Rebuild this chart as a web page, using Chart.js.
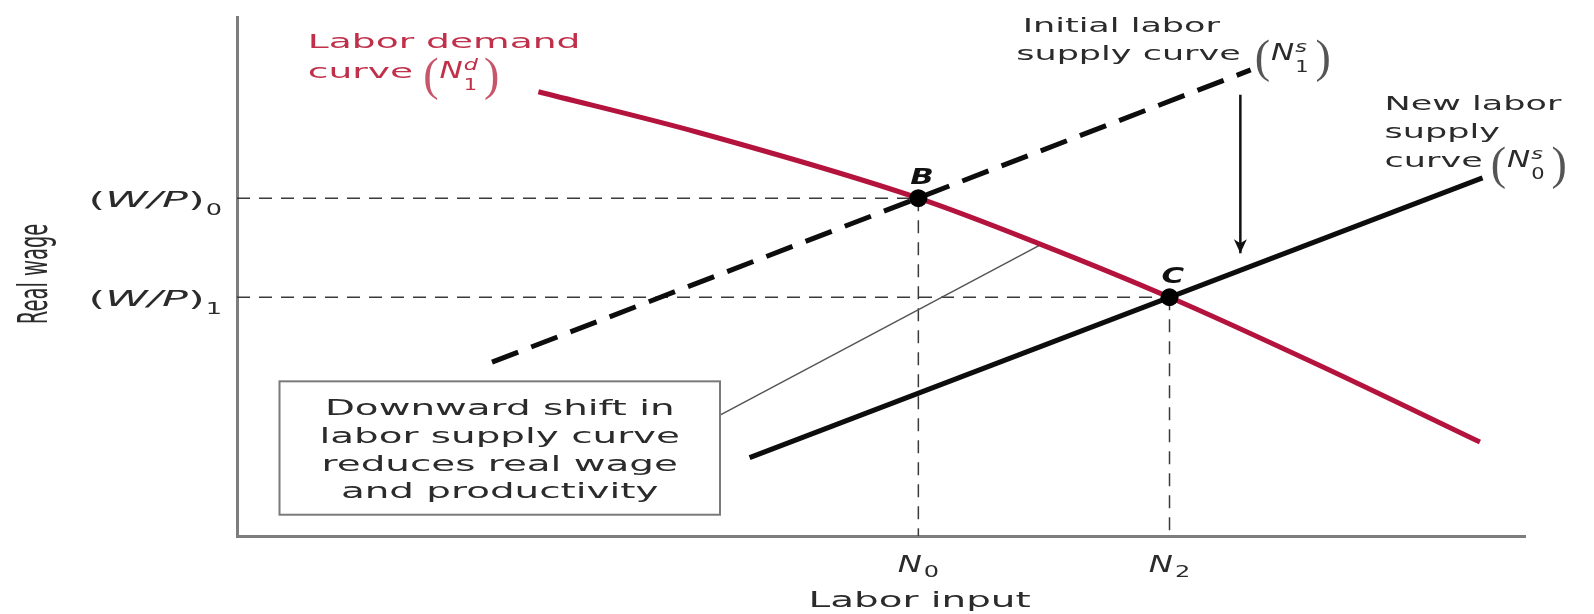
<!DOCTYPE html>
<html>
<head>
<meta charset="utf-8">
<title>Downward shift in labor supply</title>
<script src="https://cdn.jsdelivr.net/npm/chart.js@4.4.1/dist/chart.umd.min.js"></script>
<style>
  html, body { margin: 0; padding: 0; background: #fff; }
  #wrap { width: 1594px; height: 614px; }
</style>
</head>
<body>
<div id="wrap"><canvas id="chart" width="1594" height="614"></canvas></div>
<script>
// both axes are in plain chart units, 0-100 (the figure has no numeric scale)

// labor demand curve N1d
const demandX = [23.4, 35.9, 52.9, 62.3, 72.4, 84.1, 96.5];
const demandY = [85.6, 77.7, 65.1, 56.3, 46.0, 32.8, 18.1];

// initial labor supply curve N1s (dashed) and new one N0s (solid)
const initialSupplyX = [19.8, 78.7];
const initialSupplyY = [33.5, 89.8];
const newSupplyX = [39.8, 96.7];
const newSupplyY = [15.1, 69.0];

// equilibrium points B and C
const pointNames = ["B", "C"];
const pointN = [52.9, 72.4];
const pointW = [65.1, 46.0];

// axis tick labels (name + subscript)
const xTickSubs = ["0", "2"];
const yTickSubs = ["0", "1"];

// the downward shift arrow and the note's leader line
const shiftArrowX = [77.9, 77.9];
const shiftArrowY = [85.0, 54.5];
const leaderX = [37.5, 62.3];
const leaderY = [23.3, 56.0];

const noteLines = [
  "Downward shift in",
  "labor supply curve",
  "reduces real wage",
  "and productivity",
];

const RED = "#b3133c";
const RED_TEXT = "#c0304a";
const INK = "#2b2b2b";
const SX = 1.75; // the original figure is stretched sideways
const TEXT_FONT = "20px 'DejaVu Sans'";
const NOTE_FONT = "21px 'DejaVu Sans'";
const NOTE_SX = 1.85;

const xy = (xs, ys) => xs.map((x, i) => ({ x, y: ys[i] }));

// draws runs of text side by side, each with its own font / stretch / shift
function drawRuns(ctx, runs, x, y, align, color) {
  let held = 0;
  const adv = runs.map((r) => {
    ctx.font = r.font || TEXT_FONT;
    const w = ctx.measureText(r.t).width * (r.sx || SX) + (r.gap || 0);
    if (r.hold) {
      held = w;
      return 0;
    }
    const a = Math.max(w, held);
    held = 0;
    return a;
  });
  const total = adv.reduce((s, a) => s + a, 0);
  let cx = align === "center" ? x - total / 2 : align === "right" ? x - total : x;
  runs.forEach((r, i) => {
    ctx.save();
    ctx.font = r.font || TEXT_FONT;
    ctx.fillStyle = r.color || color;
    ctx.textAlign = "left";
    ctx.textBaseline = "alphabetic";
    ctx.translate(cx, y + (r.dy || 0));
    ctx.scale(r.sx || SX, 1);
    ctx.fillText(r.t, 0, 0);
    ctx.restore();
    cx += adv[i];
  });
}

// "(N sup/sub)" with tall thin parentheses
function mathN(sup, sub, parenColor) {
  return [
    { t: "(", font: "46px 'Liberation Serif'", sx: 1, dy: 12, gap: 1, color: parenColor },
    { t: "N", font: "italic 23px 'DejaVu Sans'", sx: 1.35, gap: 1 },
    { t: sup, font: "italic 16px 'DejaVu Sans'", sx: 1.4, dy: -8, hold: true },
    { t: sub, font: "15px 'DejaVu Sans'", sx: 1.4, dy: 12, gap: 7 },
    { t: ")", font: "46px 'Liberation Serif'", sx: 1, dy: 12, color: parenColor },
  ];
}

const figureText = {
  id: "figureText",
  afterDatasetsDraw(chart) {
    const { ctx, chartArea: area } = chart;
    const X = (v) => chart.scales.x.getPixelForValue(v);
    const Y = (v) => chart.scales.y.getPixelForValue(v);
    ctx.save();

    // note box
    const bx = X(3.3), by = Y(29.8);
    const bw = X(leaderX[0]) - bx, bh = Y(4.1) - by;
    ctx.fillStyle = "#fff";
    ctx.fillRect(bx, by, bw, bh);
    ctx.strokeStyle = "#7a7a7a";
    ctx.lineWidth = 2;
    ctx.strokeRect(bx, by, bw, bh);
    noteLines.forEach((line, i) => {
      drawRuns(ctx, [{ t: line, font: NOTE_FONT, sx: NOTE_SX }],
        bx + bw / 2, by + 34 + i * 27.7, "center", INK);
    });

    // arrow head on the shift arrow
    const ax = X(shiftArrowX[1]), ay = Y(shiftArrowY[1]);
    ctx.fillStyle = "#111";
    ctx.beginPath();
    ctx.moveTo(ax, ay);
    ctx.lineTo(ax - 6.5, ay - 14);
    ctx.lineTo(ax, ay - 10);
    ctx.lineTo(ax + 6.5, ay - 14);
    ctx.closePath();
    ctx.fill();

    // curve labels
    drawRuns(ctx, [{ t: "Labor demand", sx: 1.88 }], X(5.5), Y(94.0), "left", RED_TEXT);
    drawRuns(ctx, [{ t: "curve", sx: 1.88, gap: 10 }, ...mathN("d", "1", "#c8566a")],
      X(5.5), Y(88.2), "left", RED_TEXT);

    drawRuns(ctx, [{ t: "Initial labor" }], X(61.0), Y(97.1), "left", INK);
    drawRuns(ctx, [{ t: "supply curve", gap: 14 }, ...mathN("s", "1", "#555")],
      X(60.5), Y(91.7), "left", INK);

    drawRuns(ctx, [{ t: "New labor" }], X(89.1), Y(82.1), "left", INK);
    drawRuns(ctx, [{ t: "supply" }], X(89.1), Y(76.7), "left", INK);
    drawRuns(ctx, [{ t: "curve", gap: 8 }, ...mathN("s", "0", "#555")],
      X(89.1), Y(71.1), "left", INK);

    // equilibrium point letters
    pointNames.forEach((name, i) => {
      drawRuns(ctx, [{ t: name, font: "bold italic 22px 'DejaVu Sans'", sx: 1.4 }],
        X(pointN[i]) - 8, Y(pointW[i]) - 14, "left", "#111");
    });

    // tick labels
    chart.scales.x.ticks.forEach((tick, i) => {
      drawRuns(ctx, [
        { t: "N", font: "italic 23px 'DejaVu Sans'", sx: 1.4, gap: 2 },
        { t: xTickSubs[i], font: "16px 'DejaVu Sans'", sx: 1.5, dy: 5 },
      ], X(tick.value), area.bottom + 36, "center", INK);
    });
    chart.scales.y.ticks.forEach((tick, i) => {
      drawRuns(ctx, [
        { t: "(", font: "22px 'DejaVu Sans'", sx: 1.95 },
        { t: "W/P", font: "italic 22px 'DejaVu Sans'", sx: 1.95 },
        { t: ")", font: "22px 'DejaVu Sans'", sx: 1.95, gap: 1 },
        { t: yTickSubs[i], font: "16px 'DejaVu Sans'", sx: 1.6, dy: 8 },
      ], area.left - 15, Y(tick.value) + 9, "right", INK);
    });

    // axis titles
    drawRuns(ctx, [{ t: "Labor input", font: NOTE_FONT, sx: NOTE_SX }],
      X(53.0), area.bottom + 71, "center", INK);
    ctx.save();
    ctx.translate(area.left - 200, Y(50.5));
    ctx.scale(2.05, 1);
    ctx.rotate(-Math.PI / 2);
    ctx.font = "19.5px 'DejaVu Sans'";
    ctx.fillStyle = INK;
    ctx.textAlign = "center";
    ctx.textBaseline = "middle";
    ctx.fillText("Real wage", 0, 0);
    ctx.restore();

    ctx.restore();
  },
};

// dashed guides from each equilibrium point to both axes
const guides = pointN.flatMap((n, i) => [
  { data: [{ x: 0, y: pointW[i] }, { x: n, y: pointW[i] }] },
  { data: [{ x: n, y: pointW[i] }, { x: n, y: 0 }] },
]).map((g) => ({
  ...g,
  showLine: true,
  borderColor: "#3a3a3a",
  borderWidth: 1.5,
  borderDash: [13, 9],
  pointRadius: 0,
}));

const ctx = document.getElementById("chart").getContext("2d");

new Chart(ctx, {
  type: "scatter",
  data: {
    datasets: [
      {
        label: "Equilibrium",
        data: xy(pointN, pointW),
        pointRadius: 9,
        pointBackgroundColor: "#000",
        pointBorderWidth: 0,
        showLine: false,
      },
      {
        label: "Labor demand",
        data: xy(demandX, demandY),
        showLine: true,
        borderColor: RED,
        borderWidth: 5,
        cubicInterpolationMode: "monotone",
        pointRadius: 0,
      },
      {
        label: "New labor supply",
        data: xy(newSupplyX, newSupplyY),
        showLine: true,
        borderColor: "#0d0d0d",
        borderWidth: 5,
        pointRadius: 0,
      },
      {
        label: "Initial labor supply",
        data: xy(initialSupplyX, initialSupplyY),
        showLine: true,
        borderColor: "#0d0d0d",
        borderWidth: 5,
        borderDash: [28, 14],
        pointRadius: 0,
      },
      {
        label: "Shift",
        data: xy(shiftArrowX, shiftArrowY),
        showLine: true,
        borderColor: "#111",
        borderWidth: 2.5,
        pointRadius: 0,
      },
      {
        label: "Leader",
        data: xy(leaderX, leaderY),
        showLine: true,
        borderColor: "#555",
        borderWidth: 1.5,
        pointRadius: 0,
      },
      ...guides,
    ],
  },
  options: {
    responsive: false,
    devicePixelRatio: 1,
    animation: false,
    events: [],
    layout: { padding: { left: 237, top: 17, right: 69, bottom: 78 } },
    plugins: { legend: { display: false }, tooltip: { enabled: false } },
    scales: {
      x: {
        type: "linear",
        min: 0,
        max: 100,
        grid: { display: false, drawTicks: false },
        border: { display: true, color: "#7d7d7d", width: 3 },
        ticks: { display: false },
        afterBuildTicks: (s) => { s.ticks = pointN.map((v) => ({ value: v })); },
        afterFit: (s) => { s.height = 0; },
      },
      y: {
        type: "linear",
        min: 0,
        max: 100,
        grid: { display: false, drawTicks: false },
        border: { display: true, color: "#7d7d7d", width: 3 },
        ticks: { display: false },
        afterBuildTicks: (s) => { s.ticks = pointW.map((v) => ({ value: v })); },
        afterFit: (s) => { s.width = 0; },
      },
    },
  },
  plugins: [figureText],
});
</script>
</body>
</html>
